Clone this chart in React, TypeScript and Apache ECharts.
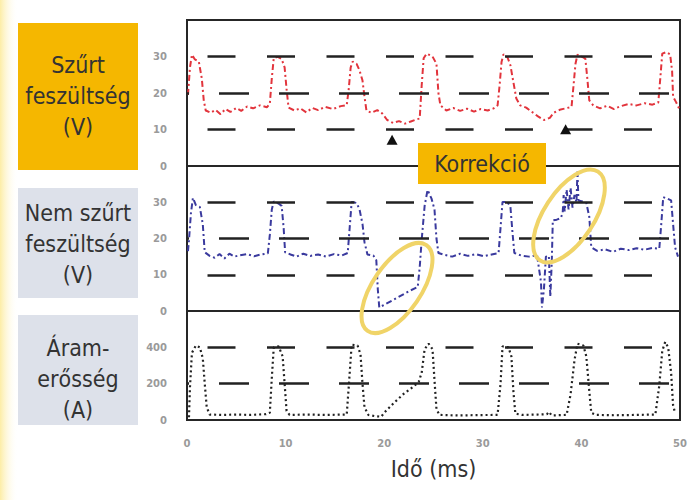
import React, { useEffect, useRef } from "react";
import * as echarts from "echarts";

// ---- data ----
const timeTicks = [0, 10, 20, 30, 40, 50];
const voltageGridValues = [10, 20, 30];
const currentGridValues = [200, 400];

const filteredVoltage: [number, number][] = [
  [0.1, 19.5], [0.3, 27], [0.5, 30.5], [0.8, 29.2], [1.2, 28.6], [1.5, 24], [1.7, 18], [1.9, 15.2],
  [2.4, 14.6], [2.9, 15.4], [3.4, 14.2], [3.9, 15.6], [4.4, 14.8], [5.0, 15.9], [5.5, 15.1], [6.1, 16.3], [6.7, 15.8], [7.4, 16.6], [8.1, 16.1],
  [8.4, 17], [8.6, 24], [8.8, 29.6], [9.2, 29.9], [9.6, 29.3], [9.9, 27], [10.1, 21], [10.3, 16],
  [10.9, 15.2], [11.5, 15.8], [12.1, 14.7], [12.7, 15.9], [13.3, 15.3], [14.0, 16.2], [14.8, 15.6], [15.6, 16.4], [16.2, 16.7],
  [16.4, 21], [16.6, 27], [16.8, 28.6], [17.2, 28], [17.5, 26.2], [17.8, 23.4], [18.0, 19], [18.2, 15.2], [18.7, 14.6], [19.3, 15.3], [19.8, 14.4],
  [20.3, 12.6], [20.9, 11.8], [21.5, 12.3], [22.1, 11.6], [22.7, 12.2], [23.3, 12.8],
  [23.6, 13], [23.8, 22], [24.0, 29.5], [24.3, 30.8], [24.9, 30], [25.3, 28], [25.5, 20], [25.7, 16.6],
  [26.3, 15.2], [27.0, 15.9], [27.7, 15.1], [28.4, 15.7], [29.1, 14.9], [29.8, 15.6], [30.5, 15.2], [31.1, 15.8], [31.5, 16.6],
  [31.7, 22], [31.9, 28.5], [32.1, 30.6], [32.5, 29.8], [32.8, 27.6], [33.1, 23], [33.4, 18.5], [33.8, 16.6], [34.4, 16], [35.0, 14.8], [35.6, 13.6], [36.2, 12.6], [36.8, 13.2], [37.2, 14.6], [37.8, 15.4], [38.4, 15.8], [39.0, 16.2],
  [39.2, 22], [39.4, 28], [39.6, 30.5], [40.0, 30], [40.4, 29.4], [40.6, 24], [40.8, 18], [41.2, 16.6], [41.9, 15.8], [42.6, 16.5], [43.3, 15.6], [44.0, 16.4], [44.8, 17], [45.6, 16.6], [46.4, 17.2], [47.2, 16.8], [47.8, 17.4],
  [48.0, 24], [48.2, 30.8], [48.6, 31.2], [49.0, 30.6], [49.2, 26], [49.3, 19], [49.6, 17.5], [49.9, 15.8],
];

const unfilteredVoltage: [number, number][] = [
  [0.1, 16.5], [0.2, 19.6], [0.4, 27], [0.6, 31.2], [0.9, 29.2], [1.3, 28.7], [1.6, 24], [1.8, 16.2],
  [2.3, 15.2], [2.8, 14.7], [3.3, 15.7], [3.8, 14.5], [4.3, 15.8], [4.8, 15], [5.4, 15.4], [6.1, 15.7], [6.8, 15.1], [7.5, 15.6], [8.2, 15.9],
  [8.4, 21], [8.6, 28], [8.8, 30.2], [9.3, 29.6], [9.6, 29], [9.8, 23], [9.95, 16.2],
  [10.5, 15.6], [11.1, 15], [11.8, 15.8], [12.5, 15.2], [13.3, 15.6], [14.1, 15], [14.9, 15.7], [15.7, 15.3], [16.3, 16],
  [16.5, 23], [16.7, 30.1], [17.2, 29.8], [17.5, 28], [17.8, 24], [18.0, 19], [18.3, 15.6], [18.9, 15.3], [19.2, 14],
  [19.35, 6], [19.5, 1], [20.2, 2], [21.0, 3.2], [21.8, 4.4], [22.6, 5.6], [23.4, 6.6],
  [23.6, 12], [23.8, 19.6], [24.1, 29], [24.4, 33.4], [24.8, 31], [25.1, 28], [25.3, 20], [25.5, 16],
  [26.1, 15.5], [26.9, 15], [27.7, 15.8], [28.5, 15.2], [29.3, 15.7], [30.1, 15.1], [30.9, 15.6], [31.6, 16],
  [31.8, 23], [32.0, 30.1], [32.5, 30], [32.8, 28.8], [33.0, 22], [33.2, 16], [33.9, 15.3], [34.7, 15], [35.5, 15.4],
  [35.9, 8], [36.0, 1], [36.2, 6], [36.4, 15], [36.7, 15.2], [36.85, 3.9], [37.0, 14], [37.1, 25], [37.5, 25.2], [37.9, 25.6],
  [38.1, 27], [38.2, 32], [38.3, 27.5], [38.5, 33.5], [38.7, 28], [38.9, 34], [39.1, 28.5], [39.3, 32], [39.5, 30], [39.6, 38.5], [39.7, 30.5], [40.1, 30.2], [40.5, 29.8], [40.8, 26], [41.0, 17.6],
  [41.6, 16.6], [42.4, 17], [43.2, 16.3], [44.0, 17.2], [44.8, 16.8], [45.6, 17.3], [46.4, 16.9], [47.2, 17.4], [47.9, 17.2],
  [48.1, 24], [48.3, 31.4], [48.7, 31], [49.1, 30.5], [49.3, 24], [49.5, 17.6], [49.8, 15],
];

const current: [number, number][] = [
  [0.2, 15], [0.3, 180], [0.5, 370], [0.9, 410], [1.3, 400], [1.6, 340], [1.8, 200], [2.0, 70], [2.3, 30],
  [3.5, 28], [5.0, 30], [6.5, 28], [8.0, 32], [8.4, 40], [8.6, 230], [8.8, 400], [9.3, 405], [9.7, 350], [9.9, 200], [10.1, 50], [10.4, 28],
  [12, 30], [14, 28], [16.2, 30], [16.4, 180], [16.7, 415], [17.3, 410], [17.6, 360], [17.8, 200], [18.0, 70], [18.4, 28], [19.0, 22], [19.7, 18],
  [20.0, 40], [21.0, 95], [22.0, 145], [23.0, 185], [23.5, 210], [23.8, 260], [24.1, 390], [24.5, 420], [24.9, 390], [25.1, 220], [25.3, 60], [25.6, 28],
  [27.5, 25], [29.5, 27], [31.5, 28], [31.8, 200], [32.0, 405], [32.6, 400], [32.9, 350], [33.1, 160], [33.3, 35], [34.0, 28], [35.5, 30], [36.5, 32], [36.7, 45], [37.0, 25],
  [38.5, 28], [38.9, 140], [39.3, 330], [39.6, 420], [40.2, 410], [40.5, 350], [40.8, 160], [41.0, 40], [41.5, 28], [43.5, 26], [45.5, 28], [47.5, 30],
  [47.9, 190], [48.2, 380], [48.5, 430], [48.8, 400], [49.1, 260], [49.3, 80], [49.5, 40],
];

const markerPoints: [number, number][] = [[20.8, 7.2], [38.4, 10.1]];
const panelLabels = ["Szűrt\nfeszültség\n(V)", "Nem szűrt\nfeszültség\n(V)", "Áram-\nerősség\n(A)"];
const annotationLabel = "Korrekció";
const xAxisName = "Idő (ms)";

const CONDENSED = "'DejaVu Sans Condensed', 'Liberation Sans Narrow', 'Noto Sans', sans-serif";
const YELLOW = "#F5B700";
const GREYBOX = "#DDE1EA";

function gridDash(v: number) {
  const offsetRow = v === 20 || v === 200;
  return offsetRow
    ? { type: [30, 30], dashOffset: 28, color: "#222", width: 2.5 }
    : { type: [28, 31.5], dashOffset: 38.5, color: "#222", width: 2.5 };
}

function markLines(values: number[]) {
  return {
    silent: true,
    symbol: ["none", "none"],
    label: { show: false },
    animation: false,
    data: values.map((v) => ({ yAxis: v, lineStyle: gridDash(v) })),
  };
}

export default function App() {
  const ref = useRef<HTMLDivElement>(null);
  useEffect(() => {
    if (!ref.current) return;
    const chart = echarts.init(ref.current, undefined, { renderer: "svg" });
    const tickLabel = { color: "#9a9a9a", fontSize: 10, fontWeight: "bold" as const, fontFamily: "DejaVu Sans" };
    const grids = [
      { left: 187, right: 11, top: 20, height: 146 },
      { left: 187, right: 11, top: 166, height: 145 },
      { left: 187, right: 11, top: 311, height: 109 },
    ].map((g) => ({ ...g, show: true, borderColor: "#262626", borderWidth: 2, backgroundColor: "transparent" }));

    const xAxes = [0, 1, 2].map((i) => ({
      type: "value",
      gridIndex: i,
      min: 0,
      max: 50,
      interval: 10,
      axisLine: { show: false },
      axisTick: { show: false },
      splitLine: { show: false },
      axisLabel: i === 2 ? { ...tickLabel, margin: 18, formatter: (v: number) => (timeTicks.includes(v) ? String(v) : "") } : { show: false },
      name: i === 2 ? xAxisName : undefined,
      nameLocation: "middle",
      nameGap: 37,
      nameTextStyle: { fontSize: 23, color: "#333", fontFamily: CONDENSED },
    }));

    const yAxes = [0, 1, 2].map((i) => ({
      type: "value",
      gridIndex: i,
      min: 0,
      max: i === 2 ? 600 : 40,
      interval: i === 2 ? 200 : 10,
      axisLine: { show: false },
      axisTick: { show: false },
      splitLine: { show: false },
      axisLabel: {
        ...tickLabel,
        margin: 20,
        formatter: (v: number) => ((i === 2 ? v === 600 : v === 40) ? "" : String(v)),
      },
    }));

    const option: any = {
      animation: false,
      backgroundColor: "#ffffff",
      grid: grids,
      xAxis: xAxes,
      yAxis: yAxes,
      series: [
        {
          type: "line",
          xAxisIndex: 0,
          yAxisIndex: 0,
          data: filteredVoltage,
          showSymbol: false,
          lineStyle: { color: "#E2343C", width: 2, type: [6, 3, 2, 3] },
          markLine: markLines(voltageGridValues),
          markPoint: {
            symbol: "triangle",
            symbolSize: [11, 10],
            itemStyle: { color: "#111" },
            label: { show: false },
            data: markerPoints.map((p) => ({ coord: p })),
          },
          z: 3,
        },
        {
          type: "line",
          xAxisIndex: 1,
          yAxisIndex: 1,
          data: unfilteredVoltage,
          showSymbol: false,
          lineStyle: { color: "#3A3A9E", width: 2, type: [6, 3, 2, 3] },
          markLine: markLines(voltageGridValues),
          z: 3,
        },
        {
          type: "line",
          xAxisIndex: 2,
          yAxisIndex: 2,
          data: current,
          showSymbol: false,
          lineStyle: { color: "#222", width: 2.2, type: [2, 3] },
          markLine: markLines(currentGridValues),
          z: 3,
        },
      ],
      graphic: [
        {
          type: "rect",
          shape: { x: 0, y: 0, width: 18, height: 500 },
          style: {
            fill: new echarts.graphic.LinearGradient(0, 0, 1, 0, [
              { offset: 0, color: "rgba(252,234,150,0.85)" },
              { offset: 1, color: "rgba(255,255,255,0)" },
            ]),
          },
          z: -10,
        },
        { type: "rect", shape: { x: 18, y: 23, width: 120, height: 147 }, style: { fill: YELLOW }, z: 10 },
        { type: "rect", shape: { x: 18, y: 188, width: 120, height: 110 }, style: { fill: GREYBOX }, z: 10 },
        { type: "rect", shape: { x: 18, y: 315, width: 120, height: 110 }, style: { fill: GREYBOX }, z: 10 },
        ...panelLabels.map((t, i) => ({
          type: "text",
          x: 78,
          y: [96, 244, 379][i],
          z: 11,
          style: {
            text: t,
            fill: "#333",
            fontSize: 23,
            fontFamily: CONDENSED,
            align: "center",
            verticalAlign: "middle",
            lineHeight: 31,
          },
        })),
        { type: "rect", shape: { x: 418, y: 143, width: 128, height: 41 }, style: { fill: YELLOW }, z: 20 },
        {
          type: "text",
          x: 482,
          y: 164,
          z: 21,
          style: { text: annotationLabel, fill: "#333", fontSize: 23, fontFamily: CONDENSED, align: "center", verticalAlign: "middle" },
        },
        {
          type: "ellipse",
          x: 397,
          y: 288,
          rotation: -0.6,
          shape: { cx: 0, cy: 0, rx: 24, ry: 52 },
          style: { fill: "rgba(0,0,0,0)", stroke: "#F0D468", lineWidth: 4 },
          z: 30,
        },
        {
          type: "ellipse",
          x: 569,
          y: 216,
          rotation: -0.58,
          shape: { cx: 0, cy: 0, rx: 25, ry: 53 },
          style: { fill: "rgba(0,0,0,0)", stroke: "#F0D468", lineWidth: 4 },
          z: 30,
        },
      ],
    };
    chart.setOption(option);
    return () => chart.dispose();
  }, []);
  return (
    <div
      ref={ref}
      style={{ position: "fixed", left: 0, top: 0, width: 691, height: 500, background: "#fff" }}
    />
  );
}
